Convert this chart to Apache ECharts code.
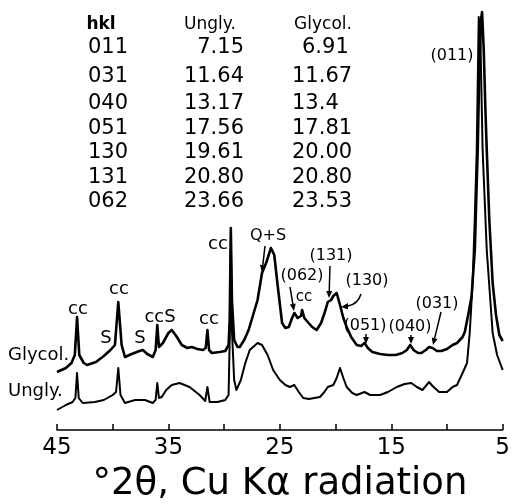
<!DOCTYPE html>
<html>
<head>
<meta charset="utf-8">
<script src="https://cdn.jsdelivr.net/npm/echarts@6/dist/echarts.min.js"></script>
<style>
  html, body { margin: 0; padding: 0; background: #fff; }
  #chart { width: 513px; height: 504px; }
</style>
</head>
<body>
<div id="chart"></div>
<script>
// glycolated trace, degrees 2-theta and intensity (arbitrary units)
const glycolTwoTheta = [45.0, 44.2, 43.7, 43.4, 43.2, 43.0, 42.6, 42.3, 41.5, 40.8, 40.2, 39.8, 39.5, 39.2, 38.9, 38.3,
  37.6, 37.3, 36.9, 36.4, 36.15, 36.0, 35.85, 35.5, 35.0, 34.7, 34.3, 33.8, 33.3, 32.9, 32.4, 31.9, 31.65, 31.5, 31.35,
  31.1, 30.4, 29.9, 29.6, 29.5, 29.4, 29.3, 29.1, 28.8, 28.6, 28.2, 27.8, 27.4, 27.0, 26.6, 26.2, 25.8, 25.5, 25.2,
  24.8, 24.5, 24.2, 23.9, 23.7, 23.4, 23.1, 23.0, 22.8, 22.5, 22.1, 21.7, 21.3, 20.9, 20.7, 20.4, 20.2, 19.9, 19.6,
  19.3, 19.0, 18.6, 18.1, 17.7, 17.4, 17.1, 16.7, 16.0, 15.3, 14.6, 14.0, 13.6, 13.3, 13.0, 12.6, 12.3, 11.9, 11.6,
  11.3, 10.9, 10.5, 10.0, 9.5, 9.1, 8.6, 8.4, 8.1, 7.8, 7.5, 7.33, 7.24, 7.1, 6.95, 6.85, 6.7, 6.55, 6.43, 6.2, 5.9,
  5.6, 5.3, 5.0];
const glycolIntensity = [58, 62, 67, 75, 113, 75, 67, 65, 68, 74, 80, 85, 128, 85, 73, 76,
  79, 80, 76, 73, 80, 105, 83, 87, 97, 100, 94, 85, 82, 83, 81, 80, 82, 100, 80,
  77, 78, 79, 85, 110, 202, 130, 90, 83, 83, 90, 100, 115, 130, 157, 168, 182, 175, 145,
  107, 102, 103, 112, 117, 112, 114, 120, 112, 108, 103, 100, 107, 120, 128, 130, 134, 137, 125,
  112, 103, 93, 85, 84, 87, 82, 78, 76, 75, 75, 77, 80, 85, 80, 77, 77, 80, 83,
  82, 79, 79, 81, 85, 87, 93, 98, 115, 133, 180, 247, 280, 360, 410, 418, 380, 320, 280, 210, 147,
  115, 95, 89];

// unglycolated trace
const unglyTwoTheta = [45.0, 44.2, 43.6, 43.35, 43.2, 43.05, 42.7, 41.6, 40.8, 40.0, 39.7, 39.5, 39.3, 38.9, 38.0,
  37.1, 36.4, 36.15, 36.0, 35.85, 35.6, 35.2, 34.7, 34.0, 33.1, 32.2, 31.7, 31.5, 31.3, 30.6, 29.9, 29.6, 29.5, 29.4,
  29.3, 29.1, 28.9, 28.5, 28.1, 27.7, 27.2, 27.0, 26.6, 26.1, 25.6, 25.0, 24.5, 24.1, 23.7, 23.3, 22.9, 22.4, 21.4,
  21.0, 20.7, 20.2, 19.9, 19.6, 19.3, 19.0, 18.5, 18.1, 17.4, 16.9, 16.0, 15.3, 14.5, 13.8, 13.2, 12.7, 12.2, 11.9,
  11.6, 11.3, 10.7, 10.0, 9.5, 9.1, 8.6, 8.2, 7.96, 7.7, 7.5, 7.33, 7.15, 7.0, 6.8, 6.43, 5.9, 5.5, 5.0];
const unglyIntensity = [20, 25, 28, 32, 57, 32, 27, 28, 30, 35, 38, 62, 35, 27, 30,
  30, 27, 30, 47, 32, 33, 40, 45, 47, 43, 35, 29, 43, 28, 28, 30, 35, 90, 190,
  100, 50, 40, 50, 67, 80, 85, 87, 85, 75, 60, 50, 45, 43, 45, 38, 32, 31, 33,
  38, 43, 45, 52, 62, 52, 43, 37, 35, 38, 35, 35, 38, 43, 46, 47, 43, 40, 44,
  48, 44, 38, 38, 43, 45, 57, 67, 97, 147, 213, 280, 413, 390, 280, 180, 97, 75, 60];

// inset table
const hklList = ['011', '031', '040', '051', '130', '131', '062'];
const unglyPeaks = ['7.15', '11.64', '13.17', '17.56', '19.61', '20.80', '23.66'];
const glycolPeaks = ['6.91', '11.67', '13.4', '17.81', '20.00', '20.80', '23.53'];

const xTicks = [5, 15, 25, 35, 45];

const FONT = 'DejaVu Sans';

function zip(xs, ys) {
  return xs.map((x, i) => [x, ys[i]]);
}

function txt(s, x, y, size, align, weight) {
  return {
    type: 'text', x: x, y: y, silent: true,
    style: {
      text: s, fill: '#000', font: (weight ? weight + ' ' : '') + size + 'px "' + FONT + '"',
      textAlign: align || 'center', textVerticalAlign: 'middle'
    }
  };
}

function arrow(x1, y1, x2, y2) {
  const a = Math.atan2(y2 - y1, x2 - x1);
  const h = 7, w = 3;
  const bx = x2 - h * Math.cos(a), by = y2 - h * Math.sin(a);
  const ox = -Math.sin(a) * w, oy = Math.cos(a) * w;
  return [
    { type: 'line', silent: true, shape: { x1: x1, y1: y1, x2: bx, y2: by }, style: { stroke: '#000', lineWidth: 1.5 } },
    { type: 'polygon', silent: true, shape: { points: [[x2, y2], [bx + ox, by + oy], [bx - ox, by - oy]] }, style: { fill: '#000' } }
  ];
}

const graphics = [];

// table
graphics.push(txt('hkl', 101, 25, 17, 'center', 'bold'));
graphics.push(txt('Ungly.', 210, 25, 17));
graphics.push(txt('Glycol.', 323, 25, 17));
const rowY = [48, 77, 104, 129, 153, 178, 202];
hklList.forEach((h, i) => {
  graphics.push(txt(h, 88, rowY[i], 21, 'left'));
  graphics.push(txt(unglyPeaks[i], 244, rowY[i], 21, 'right'));
  graphics.push(txt(glycolPeaks[i], i === 0 ? 302 : 292, rowY[i], 21, 'left'));
});

// peak labels
graphics.push(txt('cc', 78, 309, 18));
graphics.push(txt('cc', 119, 289, 18));
graphics.push(txt('S', 106, 338, 18));
graphics.push(txt('S', 140, 338, 18));
graphics.push(txt('ccS', 160, 317, 18));
graphics.push(txt('cc', 209, 319, 18));
graphics.push(txt('cc', 218, 244, 18));
graphics.push(txt('Q+S', 268, 236, 16));
graphics.push(txt('cc', 304, 297, 15));
graphics.push(txt('(062)', 302, 276, 16));
graphics.push(txt('(131)', 331, 256, 16));
graphics.push(txt('(130)', 367, 281, 16));
graphics.push(txt('(051)', 365, 326, 16));
graphics.push(txt('(040)', 410, 327, 16));
graphics.push(txt('(031)', 437, 304, 16));
graphics.push(txt('(011)', 452, 56, 16));
graphics.push(txt('Glycol.', 8, 355, 18, 'left'));
graphics.push(txt('Ungly.', 8, 391, 18, 'left'));

// arrows
graphics.push(...arrow(265, 246, 262, 272));
graphics.push(...arrow(290, 287, 294, 311));
graphics.push(...arrow(330, 266, 329, 298));
graphics.push({
  type: 'bezierCurve', silent: true,
  shape: { x1: 361, y1: 294, cpx1: 358, cpy1: 304, x2: 348, y2: 306 },
  style: { stroke: '#000', lineWidth: 1.5, fill: 'none' }
});
graphics.push({ type: 'polygon', silent: true, shape: { points: [[341, 307], [348, 303], [348, 309.5]] }, style: { fill: '#000' } });
graphics.push(...arrow(366, 334, 366, 344));
graphics.push(...arrow(411, 335, 411, 344));
graphics.push(...arrow(441, 312, 433, 345));

// axis title
graphics.push(txt('°2θ, Cu Kα radiation', 280, 484, 37));

const chart = echarts.init(document.getElementById('chart'));
chart.setOption({
  animation: false,
  backgroundColor: '#fff',
  grid: { left: 57, right: 10, top: 0, bottom: 74, containLabel: false },
  xAxis: {
    type: 'value', min: 5, max: 45, interval: 5, inverse: true,
    axisLine: { lineStyle: { color: '#000', width: 1.5 } },
    axisTick: { inside: true, length: 6, lineStyle: { color: '#000', width: 1.5 } },
    axisLabel: {
      color: '#000', fontSize: 23, fontFamily: FONT, margin: 7,
      formatter: v => (xTicks.includes(v) ? String(v) : '')
    },
    splitLine: { show: false }
  },
  yAxis: { type: 'value', min: 0, max: 430, show: false },
  series: [
    {
      name: 'Glycol.', type: 'line', data: zip(glycolTwoTheta, glycolIntensity),
      showSymbol: false, lineStyle: { color: '#000', width: 2.6, join: 'round' }
    },
    {
      name: 'Ungly.', type: 'line', data: zip(unglyTwoTheta, unglyIntensity),
      showSymbol: false, lineStyle: { color: '#000', width: 2, join: 'round' }
    }
  ],
  graphic: graphics
});
</script>
</body>
</html>
